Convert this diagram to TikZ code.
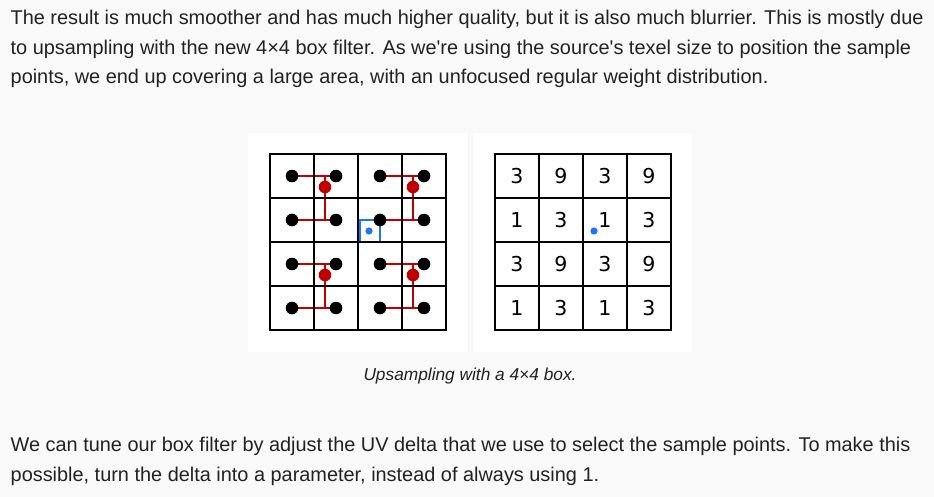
\documentclass[tikz,border=0pt]{standalone}
\usepackage{fontspec}
\setmainfont{Liberation Sans}
\newfontfamily\digitfont{DejaVu Sans}
\definecolor{bg}{HTML}{F9F9F9}
\definecolor{txt}{HTML}{222222}
\definecolor{redc}{HTML}{C00000}
\definecolor{bluec}{HTML}{1A75FF}
\begin{document}
\begin{tikzpicture}[x=1pt,y=-1pt,
  bodytext/.style={anchor=base west,inner sep=0pt,text=txt,font=\fontsize{19.9}{30}\selectfont},
  captiontext/.style={anchor=base,inner sep=0pt,text=txt,font=\fontsize{17.3}{24}\selectfont\itshape},
  panel/.style={fill=white},
  gridline/.style={line width=2pt,draw=black},
  redline/.style={line width=2.2pt,draw=redc},
  blueline/.style={line width=2.2pt,draw=bluec},
  bdot/.style={circle,fill=black,inner sep=0pt,minimum size=12.6pt},
  rdot/.style={circle,fill=redc,inner sep=0pt,minimum size=12.6pt},
  udot/.style={circle,fill=bluec,inner sep=0pt,minimum size=7.2pt},
  numtext/.style={inner sep=0pt,text=black,font=\digitfont\fontsize{20.5}{21}\selectfont}]
\useasboundingbox (0,0) rectangle (934,497);
\fill[bg] (0,0) rectangle (934,497);

\node[bodytext] (p1) at (10.5,24.7) {The result is much smoother and has much higher quality, but it is also much blurrier. This is mostly due};
\node[bodytext] (p2) at (10.5,54.4) {to upsampling with the new 4×4 box filter. As we\textquotesingle re using the source\textquotesingle s texel size to position the sample};
\node[bodytext] (p3) at (10.5,84.0) {points, we end up covering a large area, with an unfocused regular weight distribution.};

\fill[panel] (248,133) rectangle (467,352);
\fill[panel] (473,133) rectangle (692,352);

% left grid
\begin{scope}[shift={(270,154)},x=44pt,y=-44pt]
  \draw[blueline] (2.045,2) -- (2.045,1.5) -- (2.5,1.5) -- (2.5,2);
  \foreach \c in {0,...,3} \foreach \r in {0,...,3}
    \coordinate (c\c\r) at (\c+0.5,\r+0.5);
  % red connectors
  \foreach \gx/\gy/\k in {0/0/a,2/0/b,0/2/c,2/2/d}{
    \coordinate (t\k) at (\gx+1.25,\gy+0.5);
    \coordinate (b\k) at (\gx+1.25,\gy+1.5);
  }
  \draw[redline] (c00) -- (c10); \draw[redline] (c01) -- (c11);
  \draw[redline] (c20) -- (c30); \draw[redline] (c21) -- (c31);
  \draw[redline] (c02) -- (c12); \draw[redline] (c03) -- (c13);
  \draw[redline] (c22) -- (c32); \draw[redline] (c23) -- (c33);
  \foreach \k in {a,b,c,d} \draw[redline] (t\k) -- (b\k);
  \foreach \i in {1,2,3}{
    \draw[gridline] (\i,0) -- (\i,4);
    \draw[gridline] (0,\i) -- (4,\i);
  }
  \draw[gridline] (0,0) rectangle (4,4);
  \foreach \c in {0,...,3} \foreach \r in {0,...,3}
    \node[bdot] (d\c\r) at (c\c\r) {};
  \node[rdot] (sa) at (1.25,0.75) {};
  \node[rdot] (sb) at (3.25,0.75) {};
  \node[rdot] (sc) at (1.25,2.75) {};
  \node[rdot] (sd) at (3.25,2.75) {};
  \node[udot] (u) at (2.25,1.75) {};
\end{scope}

% right grid
\begin{scope}[shift={(495,154)},x=44pt,y=-44pt]
  \foreach \i in {1,2,3}{
    \draw[gridline] (\i,0) -- (\i,4);
    \draw[gridline] (0,\i) -- (4,\i);
  }
  \draw[gridline] (0,0) rectangle (4,4);
  \foreach \r/\a/\b/\cc/\dd in {0/3/9/3/9,1/1/3/1/3,2/3/9/3/9,3/1/3/1/3}{
    \node[numtext] (n0\r) at (0.5,\r+0.5) {\a};
    \node[numtext] (n1\r) at (1.5,\r+0.5) {\b};
    \node[numtext] (n2\r) at (2.5,\r+0.5) {\cc};
    \node[numtext] (n3\r) at (3.5,\r+0.5) {\dd};
  }
  \node[udot] (v) at (2.25,1.75) {};
\end{scope}

\node[captiontext] (cap) at (470,380) {Upsampling with a 4×4 box.};

\node[bodytext] (q1) at (10.5,451.7) {We can tune our box filter by adjust the UV delta that we use to select the sample points. To make this};
\node[bodytext] (q2) at (10.5,481.7) {possible, turn the delta into a parameter, instead of always using 1.};
\end{tikzpicture}
\end{document}
